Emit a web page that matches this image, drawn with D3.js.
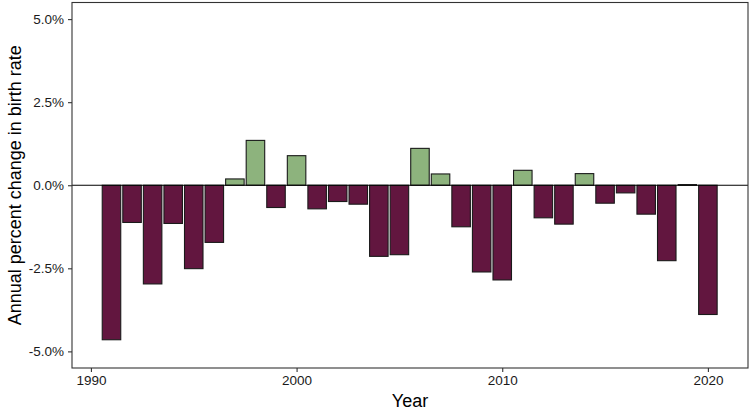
<!DOCTYPE html>
<html>
<head>
<meta charset="utf-8">
<script src="https://cdn.jsdelivr.net/npm/d3@7"></script>
<style>
  body { margin: 0; background: #fff; }
  svg { display: block; font-family: "Liberation Sans", Arial, sans-serif; }
</style>
</head>
<body>
<div id="chart"></div>
<script>
// years and annual % change in birth rate
const years = [1991, 1992, 1993, 1994, 1995, 1996, 1997, 1998, 1999, 2000,
  2001, 2002, 2003, 2004, 2005, 2006, 2007, 2008, 2009, 2010,
  2011, 2012, 2013, 2014, 2015, 2016, 2017, 2018, 2019, 2020];
const changes = [-4.65, -1.12, -2.97, -1.15, -2.51, -1.72, 0.19, 1.35, -0.67, 0.89,
  -0.71, -0.49, -0.57, -2.14, -2.09, 1.11, 0.34, -1.25, -2.61, -2.85,
  0.45, -0.98, -1.17, 0.35, -0.54, -0.23, -0.87, -2.27, 0.02, -3.89];
const yTicks = [-5, -2.5, 0, 2.5, 5];
const xTicks = [1990, 2000, 2010, 2020];

const data = years.map((y, i) => ({year: y, value: changes[i]}));

const W = 750, H = 411;
const margin = {top: 2.5, right: 2, bottom: 43, left: 72};
const width = W - margin.left - margin.right;
const height = H - margin.top - margin.bottom;

const svg = d3.select("#chart").append("svg")
    .attr("width", W)
    .attr("height", H);
const g = svg.append("g")
    .attr("transform", "translate(" + margin.left + "," + margin.top + ")");

const x = d3.scaleLinear().domain([1989.08, 2021.95]).range([0, width]);
const y = d3.scaleLinear().domain([-5.5, 5.5]).range([height, 0]);
const step = x(1991) - x(1990);
const bw = step * 0.9;

// bars
g.selectAll(".bar")
    .data(data)
    .enter().append("rect")
    .attr("class", "bar")
    .attr("x", d => x(d.year) - bw / 2)
    .attr("width", bw)
    .attr("y", d => y(Math.max(0, d.value)))
    .attr("height", d => Math.abs(y(d.value) - y(0)))
    .attr("fill", d => d.value >= 0 ? "#8db37d" : "#62163f")
    .attr("stroke", "#1a1a1a")
    .attr("stroke-width", 1.1);

// zero line
g.append("line")
    .attr("x1", 0).attr("x2", width)
    .attr("y1", y(0)).attr("y2", y(0))
    .attr("stroke", "#000").attr("stroke-width", 1.1);

// panel border
g.append("rect")
    .attr("width", width).attr("height", height)
    .attr("fill", "none").attr("stroke", "#333").attr("stroke-width", 1.1);

// axes
const xAxis = g.append("g")
    .attr("transform", "translate(0," + height + ")")
    .call(d3.axisBottom(x).tickValues(xTicks).tickFormat(d3.format("d")).tickSize(4).tickPadding(3));
const yAxis = g.append("g")
    .call(d3.axisLeft(y).tickValues(yTicks).tickFormat(d => d.toFixed(1) + "%").tickSize(4).tickPadding(4));

[xAxis, yAxis].forEach(a => {
  a.select(".domain").remove();
  a.selectAll(".tick line").attr("stroke", "#333").attr("stroke-width", 1.1);
  a.selectAll(".tick text").attr("fill", "#1a1a1a").style("font-size", "13.5px")
      .style("font-family", "'Liberation Sans', Arial, sans-serif");
});

// axis titles
svg.append("text")
    .attr("x", margin.left + width / 2)
    .attr("y", 407)
    .attr("text-anchor", "middle")
    .style("font-size", "18px")
    .text("Year");

svg.append("text")
    .attr("transform", "translate(15," + (margin.top + height / 2) + ") rotate(-90)")
    .attr("text-anchor", "middle")
    .attr("dy", "0.35em")
    .style("font-size", "18px")
    .text("Annual percent change in birth rate");
</script>
</body>
</html>
